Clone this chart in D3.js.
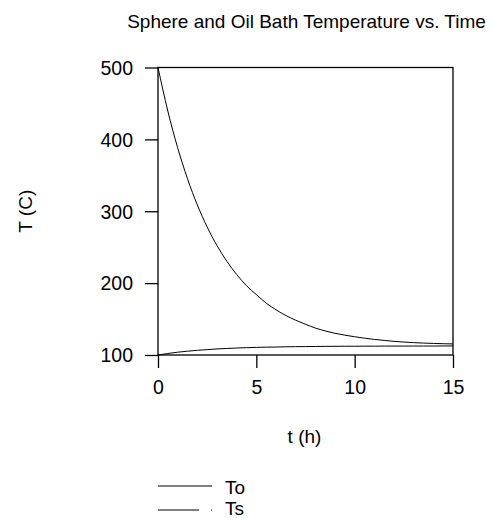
<!DOCTYPE html>
<html>
<head>
<meta charset="utf-8">
<script src="https://cdn.jsdelivr.net/npm/d3@7"></script>
<style>
  html, body { margin: 0; padding: 0; background: #fff; }
  svg { display: block; }
  text { font-family: "Liberation Sans", Arial, sans-serif; fill: #000; }
</style>
</head>
<body>
<svg id="chart" width="493" height="518"></svg>
<script>
// ---- data ----
const time = [0,0.5,1,1.5,2,2.5,3,3.5,4,4.5,5,5.5,6,6.5,7,7.5,8,8.5,9,9.5,10,10.5,11,11.5,12,12.5,13,13.5,14,14.5,15];
const To = [500,439.4,388.3,345.2,308.8,278.1,252.2,230.4,212.0,196.4,184.0,172.2,162.9,155.0,148.4,142.8,137.5,133.5,130.2,127.6,125.4,123.4,121.7,120.3,119.0,118.0,117.2,116.6,116.1,115.7,115.4];
const Ts = [100,102.1,103.9,105.3,106.5,107.5,108.4,109.1,109.7,110.2,110.6,110.9,111.1,111.4,111.6,111.7,111.9,112.0,112.1,112.2,112.2,112.3,112.3,112.4,112.4,112.4,112.5,112.5,112.5,112.6,112.6];
const xTicks = [0,5,10,15];
const yTicks = [100,200,300,400,500];
const seriesNames = ["To","Ts"];
const titleText = "Sphere and Oil Bath Temperature vs. Time";
const xLabel = "t (h)";
const yLabel = "T (C)";

// ---- layout ----
const svg = d3.select("#chart");
const L = 158, R = 453, T = 67.5, B = 355;
const FS = 19;
const FST = 19.5;

const x = d3.scaleLinear().domain([0,15]).range([L,R]);
const y = d3.scaleLinear().domain([100,500]).range([B,T]);

// title
svg.append("text").attr("x", (L+R)/2 + 1).attr("y", 28)
  .attr("text-anchor","middle").attr("font-size", FS).text(titleText);

// axes
const xAxis = d3.axisBottom(x).tickValues(xTicks).tickSize(13).tickPadding(12).tickFormat(d3.format("d"));
const yAxis = d3.axisLeft(y).tickValues(yTicks).tickSize(13).tickPadding(12).tickFormat(d3.format("d"));

const gx = svg.append("g").attr("transform",`translate(0,${B})`).call(xAxis);
const gy = svg.append("g").attr("transform",`translate(${L},0)`).call(yAxis);
[gx, gy].forEach(g => {
  g.select(".domain").remove();
  g.selectAll(".tick line").attr("stroke","#000").attr("stroke-width",1.3);
  g.selectAll(".tick text").attr("font-size", FST).attr("font-family","Liberation Sans, Arial, sans-serif").attr("fill","#000");
});
gy.selectAll(".tick text").attr("dy","0.35em");

// frame
svg.append("rect").attr("x",L).attr("y",T).attr("width",R-L).attr("height",B-T)
  .attr("fill","none").attr("stroke","#000").attr("stroke-width",1.3);

// lines
const line = d3.line().x((d,i)=>x(time[i])).y(d=>y(d)).curve(d3.curveMonotoneX);
[To, Ts].forEach(s => {
  svg.append("path").datum(s).attr("d", line)
    .attr("fill","none").attr("stroke","#000").attr("stroke-width",1);
});

// axis titles
svg.append("text").attr("x", (L+R)/2 - 1).attr("y", 443)
  .attr("text-anchor","middle").attr("font-size", FS).text(xLabel);
svg.append("text").attr("transform", `translate(32,${(T+B)/2}) rotate(-90)`)
  .attr("text-anchor","middle").attr("font-size", FS).text(yLabel);

// legend
const legY = [486, 510];
const legTextY = [494, 515];
seriesNames.forEach((name, i) => {
  svg.append("line").attr("x1",158).attr("x2",212).attr("y1",legY[i]).attr("y2",legY[i])
    .attr("stroke","#000").attr("stroke-width",1)
    .attr("stroke-dasharray", i === 1 ? "41,12,1,100" : null);
  svg.append("text").attr("x",225).attr("y",legTextY[i]).attr("font-size",FS).text(name);
});
</script>
</body>
</html>
